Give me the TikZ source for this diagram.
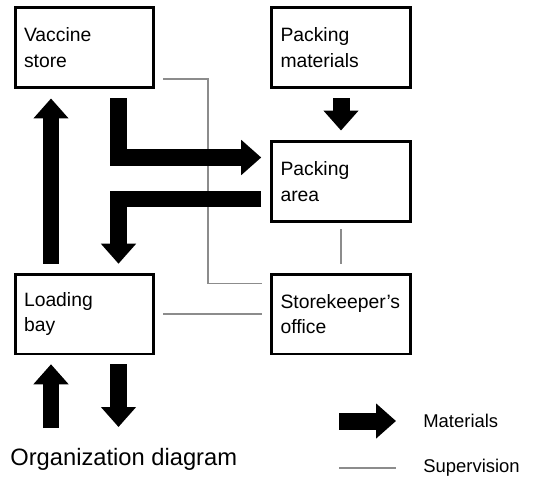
\documentclass[tikz,border=0pt]{standalone}
\usepackage{fontspec}
\setmainfont{Liberation Sans}
\usetikzlibrary{arrows.meta,calc,positioning}

\begin{document}
\begin{tikzpicture}[
  x=0.02cm,y=-0.02cm,
  box/.style={draw,line width=1.7pt,minimum width=2.78cm,minimum height=1.6cm,
    text width=2.42cm,align=left,inner sep=0pt,font=\fontsize{11}{14.5}\selectfont},
  flow/.style={line width=0.34cm,line join=miter,
    -{Triangle[length=0.4cm,width=0.68cm]}},
  superv/.style={draw=black!45,line width=0.6pt},
  every node/.style={font=\fontsize{10.5}{12}\selectfont}
]
  \useasboundingbox (0,0) rectangle (546,479);

  % boxes
  \node[box] (store)  at (84.5,47.5) {Vaccine\\store};
  \node[box] (mat)    at (341,47.5)  {Packing\\materials};
  \node[box] (pack)   at (341,181.5) {Packing\\area};
  \node[box] (load)   at (84.5,314)  {Loading\\bay};
  \node[box] (office) at (341,314)   {Storekeeper's\\office};

  % columns used by the thick arrows
  \coordinate (colA) at (51,0);
  \coordinate (colB) at (118.5,0);
  \coordinate (colC) at (208,0);
  \coordinate (inA) at (51,428);
  \coordinate (outB) at (118.5,427);

  % supervision lines
  \coordinate (sv1) at ($(store.south east)+(8,-10)$);
  \coordinate (sv2) at ($(office.north west)+(-8,11)$);
  \draw[superv] (sv1) -- (sv1 -| colC) -- (sv2 -| colC) -- (sv2);
  \draw[superv,shorten <=3.7pt,shorten >=5pt] (pack.south) -- (office.north);
  \draw[superv,shorten <=4.5pt,shorten >=4.5pt] (load.east) -- (office.west);

  % material flows
  \draw[flow,shorten <=5pt,shorten >=5.4pt] (load.north -| colA) -- (store.south -| colA);
  \draw[flow,shorten <=5.4pt,shorten >=5pt]
    (store.south -| colB) |- ($(pack.west)+(0,-24)$);
  \draw[flow,shorten <=5pt,shorten >=5pt]
    ($(pack.west)+(0,17.5)$) -| (load.north -| colB);
  \draw[flow,shorten <=5.4pt,shorten >=5.4pt] (mat.south) -- (pack.north);
  \draw[flow,shorten >=5pt] (inA) -- (load.south -| colA);
  \draw[flow,shorten <=5pt] (load.south -| colB) -- (outB);

  % title
  \node[anchor=west,inner sep=0pt,font=\fontsize{13.5}{16}\selectfont] (title)
    at (10,459) {Organization diagram};

  % legend
  \coordinate (legA) at (339,421);
  \coordinate (legB) at (396,421);
  \coordinate (legC) at (339,468);
  \coordinate (legD) at (396,468);
  \draw[flow] (legA) -- (legB);
  \draw[superv] (legC) -- (legD);
  \node[anchor=west,inner sep=0pt] (matlbl) at (423,421) {Materials};
  \node[anchor=west,inner sep=0pt] (suplbl) at (423,468) {Supervision};
\end{tikzpicture}
\end{document}
